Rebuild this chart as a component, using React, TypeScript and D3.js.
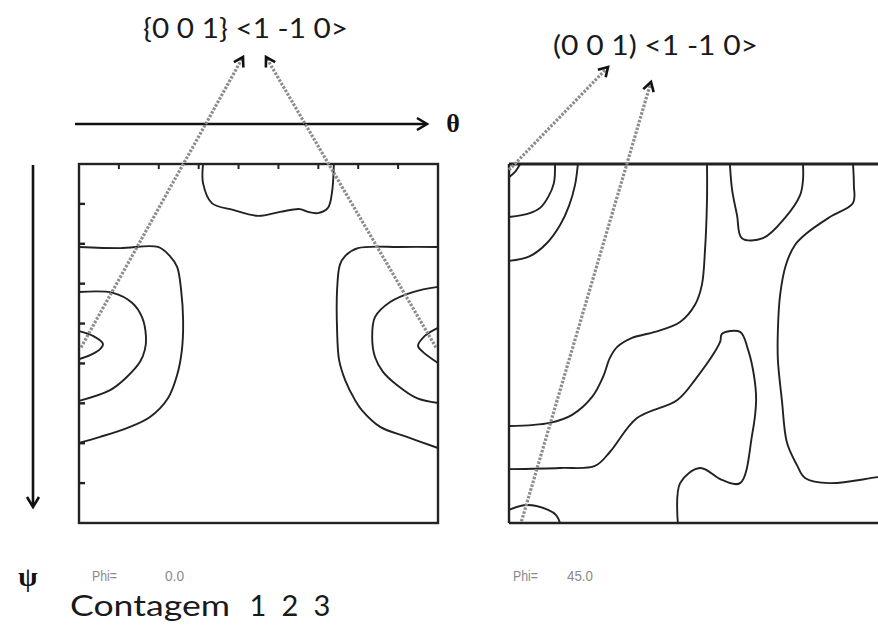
import React from "react";
import * as d3 from "d3";

const W = 878;
const H = 639;

// Euler-angle grid, degrees
const thetaDomain = [0, 90];
const psiDomain = [0, 90];
const thetaTicks = [10, 20, 30, 40, 50, 60, 70, 80];
const psiTicks = [10, 20, 30, 40, 50, 60, 70, 80];

// Section Phi = 0.0 — iso-intensity contours, [theta, psi]
const phi0Top = [[31.1, 0], [31.1, 4.8], [33.3, 9.8], [38.6, 11.5], [44.9, 13.0], [50.4, 12.0], [55.4, 11.3], [57.4, 12.0], [59.9, 12.3], [62.4, 11.0], [63.4, 7.3], [63.9, 0]];
const phi0LeftOuter = [[0, 20.8], [10.3, 21.1], [19.8, 20.8], [22.8, 23.1], [24.6, 25.8], [25.6, 31.6], [26.1, 39.1], [25.8, 46.6], [24.6, 52.9], [22.3, 58.7], [17.8, 63.4], [12.0, 66.2], [5.3, 68.4], [0, 69.9]];
const phi0LeftMid = [[0, 32.1], [8.5, 32.3], [13.3, 34.8], [15.8, 38.4], [16.8, 43.4], [16.5, 46.6], [15.3, 49.6], [12.0, 53.4], [7.8, 56.7], [0, 59.4]];
const phi0LeftInner = [[0, 41.9], [3.5, 43.1], [6.0, 45.1], [5.3, 46.4], [2.8, 47.9], [0, 48.9]];
const phi0RightOuter = [[90, 20.8], [80.5, 20.8], [69.9, 21.1], [66.7, 23.1], [65.4, 25.3], [64.7, 31.6], [64.7, 41.6], [65.2, 49.1], [66.7, 54.1], [69.2, 59.2], [70.9, 61.7], [75.5, 65.9], [82.2, 68.4], [90, 71.2]];
const phi0RightMid = [[90, 30.8], [83.7, 32.1], [78.0, 34.6], [74.2, 38.4], [73.5, 43.4], [74.2, 48.4], [76.2, 52.1], [79.7, 55.4], [84.7, 58.7], [90, 59.9]];
const phi0RightInner = [[90, 41.1], [86.7, 43.1], [85.0, 45.6], [86.2, 47.1], [90, 49.9]];

// Section Phi = 45.0
const phi45Corner = [[0, 3.3], [1.35, 2.0], [2.5, 0]];
const phi45A = [[10.35, 0], [10.1, 4.8], [8.8, 8.3], [7.0, 11.0], [4.7, 12.3], [0, 13.3]];
const phi45B = [[15.5, 0], [14.85, 5.3], [13.5, 10.5], [11.5, 15.3], [8.55, 19.8], [4.7, 23.1], [0, 24.3]];
const phi45C = [[44.55, 0], [44.55, 9.0], [44.1, 21.6], [43.4, 30.3], [41.85, 35.3], [38.5, 39.6], [32.85, 42.1], [27.7, 43.6], [24.3, 45.9], [22.7, 48.6], [21.15, 53.4], [18.7, 58.4], [14.2, 62.9], [9.2, 64.9], [0, 65.7]];
const phi45D = [[0, 76.5], [11.5, 76.2], [19.35, 75.7], [22.7, 72.2], [28.8, 63.7], [37.8, 59.2], [41.85, 54.1], [47.5, 44.6], [47.9, 42.6], [52.0, 42.1], [53.8, 46.6], [55.1, 52.9], [55.6, 59.2], [54.7, 67.9], [52.0, 80.0], [47.9, 79.2], [43.0, 76.2], [38.5, 80.0], [38.0, 90]];
const phi45E = [[49.7, 0], [50.2, 6.5], [51.3, 12.8], [52.4, 18.6], [57.15, 18.6], [62.1, 13.5], [65.5, 7.8], [66.15, 4.0], [66.15, 0]];
const phi45F = [[77.4, 0], [77.6, 5.3], [77.4, 9.8], [72.2, 13.3], [67.05, 17.3], [64.35, 20.3], [62.3, 25.3], [61.0, 32.8], [60.5, 41.6], [60.5, 49.1], [61.4, 59.2], [62.55, 69.9], [64.8, 75.5], [66.6, 78.7], [72.2, 80.0], [83.0, 78.5], [89.1, 77.7]];
const phi45G = [[0, 86.7], [4.05, 85.5], [8.8, 86.7], [10.6, 88.0], [11.5, 90]];

const phi0Contours = [phi0Top, phi0LeftOuter, phi0LeftMid, phi0LeftInner, phi0RightOuter, phi0RightMid, phi0RightInner];
const phi45Contours = [phi45Corner, phi45A, phi45B, phi45C, phi45D, phi45E, phi45F, phi45G];

const phiValues = ["0.0", "45.0"];
const orientationLabels = ["{0 0 1} <1 -1 0>", "(0 0 1) <1 -1 0>"];
const countLevels = ["1", "2", "3"];

// orientation spots pointed at by the dashed leaders, [theta, psi]
const goss0 = [[0.5, 46], [89.5, 46]];
const goss45 = [[0, 1.5], [2.8, 89.6]];

const textFont = "Lato, 'Open Sans', sans-serif";
const smallFont = "'Liberation Sans Narrow', 'Liberation Sans', Arial, sans-serif";

function Chevron({ x, y, angle, size = 10 }: { x: number; y: number; angle: number; size?: number }) {
  const a = (angle * 180) / Math.PI;
  return (
    <path
      d={`M${-size},${-size * 0.6} L0,0 L${-size},${size * 0.6}`}
      transform={`translate(${x},${y}) rotate(${a})`}
      fill="none"
      stroke="#111"
      strokeWidth={2.6}
      strokeLinejoin="miter"
    />
  );
}

function Leader({ x1, y1, x2, y2 }: { x1: number; y1: number; x2: number; y2: number }) {
  const ang = Math.atan2(y2 - y1, x2 - x1);
  return (
    <g>
      <line x1={x1} y1={y1} x2={x2 - Math.cos(ang) * 2} y2={y2 - Math.sin(ang) * 2} stroke="#8c8c8c" strokeWidth={3.2} strokeDasharray="2.5 1.5" />
      <Chevron x={x2} y={y2} angle={ang} size={9} />
    </g>
  );
}

export default function App() {
  const top = 164;
  const bottom = 523;

  const x0 = d3.scaleLinear().domain(thetaDomain).range([79, 438]);
  const y0 = d3.scaleLinear().domain(psiDomain).range([top, bottom]);
  const x45 = d3.scaleLinear().domain(thetaDomain).range([509, 909]);
  const y45 = y0;

  const line0 = d3.line<number[]>().x((d) => x0(d[0])).y((d) => y0(d[1])).curve(d3.curveCatmullRom.alpha(0.5));
  const line45 = d3.line<number[]>().x((d) => x45(d[0])).y((d) => y45(d[1])).curve(d3.curveCatmullRom.alpha(0.5));

  const labelAx = 143;
  const labelAy = 38;
  const labelBx = 553;
  const labelBy = 55;

  return (
    <svg width={W} height={H} style={{ position: "absolute", left: 0, top: 0, background: "#fff" }}>
      <rect width={W} height={H} fill="#fff" />

      {/* orientation labels */}
      <text x={labelAx} y={labelAy} fontFamily={textFont} fontSize={26} fill="#1a1a1a" textLength={205} lengthAdjust="spacingAndGlyphs">
        {orientationLabels[0]}
      </text>
      <text x={labelBx} y={labelBy} fontFamily={textFont} fontSize={26} fill="#1a1a1a" textLength={205} lengthAdjust="spacingAndGlyphs">
        {orientationLabels[1]}
      </text>

      {/* theta axis */}
      <line x1={75} y1={124} x2={426} y2={124} stroke="#111" strokeWidth={2.6} />
      <Chevron x={427} y={124} angle={0} size={10} />
      <text x={453} y={132} textAnchor="middle" fontFamily="'Liberation Serif', 'DejaVu Serif', serif" fontWeight="bold" fontSize={26} fill="#111">
        θ
      </text>

      {/* psi axis */}
      <line x1={33} y1={165} x2={33} y2={506} stroke="#111" strokeWidth={2.6} />
      <Chevron x={33} y={507} angle={Math.PI / 2} size={10} />
      <text x={28} y={586} textAnchor="middle" fontFamily="'Liberation Serif', 'DejaVu Serif', serif" fontWeight="bold" fontSize={28} fill="#111">
        ψ
      </text>

      {/* Phi = 0 section */}
      <g>
        <rect x={x0(0)} y={y0(0)} width={x0(90) - x0(0)} height={y0(90) - y0(0)} fill="none" stroke="#222" strokeWidth={2.4} />
        {thetaTicks.map((t) => (
          <line key={"tt" + t} x1={x0(t)} x2={x0(t)} y1={y0(0)} y2={y0(0) + 5} stroke="#222" strokeWidth={2} />
        ))}
        {psiTicks.map((p) => (
          <line key={"pt" + p} x1={x0(0)} x2={x0(0) + 6} y1={y0(p)} y2={y0(p)} stroke="#222" strokeWidth={2.4} />
        ))}
        {phi0Contours.map((c, i) => (
          <path key={"c0" + i} d={line0(c) || ""} fill="none" stroke="#222" strokeWidth={1.9} strokeLinejoin="round" />
        ))}
        <text x={92} y={581} fontFamily={smallFont} fontSize={14} fill="#8a8a8a" textLength={25} lengthAdjust="spacingAndGlyphs">
          Phi=
        </text>
        <text x={165} y={581} fontFamily={smallFont} fontSize={14} fill="#8a8a8a" textLength={19} lengthAdjust="spacingAndGlyphs">
          {phiValues[0]}
        </text>
      </g>

      {/* Phi = 45 section */}
      <g>
        <line x1={x45(0)} x2={W} y1={y45(0)} y2={y45(0)} stroke="#222" strokeWidth={3} />
        <line x1={x45(0)} x2={W} y1={y45(90)} y2={y45(90)} stroke="#222" strokeWidth={2.6} />
        <line x1={x45(0)} x2={x45(0)} y1={y45(0)} y2={y45(90)} stroke="#222" strokeWidth={2.4} />
        {phi45Contours.map((c, i) => (
          <path key={"c45" + i} d={line45(c) || ""} fill="none" stroke="#222" strokeWidth={1.9} strokeLinejoin="round" />
        ))}
        <text x={513} y={581} fontFamily={smallFont} fontSize={14} fill="#8a8a8a" textLength={25} lengthAdjust="spacingAndGlyphs">
          Phi=
        </text>
        <text x={567} y={581} fontFamily={smallFont} fontSize={14} fill="#8a8a8a" textLength={26} lengthAdjust="spacingAndGlyphs">
          {phiValues[1]}
        </text>
      </g>

      {/* leaders from the Goss positions to their labels */}
      <Leader x1={x0(goss0[0][0])} y1={y0(goss0[0][1])} x2={243} y2={labelAy + 19} />
      <Leader x1={x0(goss0[1][0])} y1={y0(goss0[1][1])} x2={266} y2={labelAy + 19} />
      <Leader x1={x45(goss45[0][0])} y1={y45(goss45[0][1])} x2={labelBx + 55} y2={labelBy + 12} />
      <Leader x1={x45(goss45[1][0])} y1={y45(goss45[1][1])} x2={labelBx + 98} y2={labelBy + 27} />

      {/* contour level legend */}
      <text x={70} y={616} fontFamily={textFont} fontSize={29} fill="#1a1a1a" textLength={160} lengthAdjust="spacingAndGlyphs">
        Contagem
      </text>
      {countLevels.map((lv, i) => (
        <text key={lv} x={258 + i * 32} y={616} textAnchor="middle" fontFamily={textFont} fontSize={29} fill="#1a1a1a">
          {lv}
        </text>
      ))}
    </svg>
  );
}
